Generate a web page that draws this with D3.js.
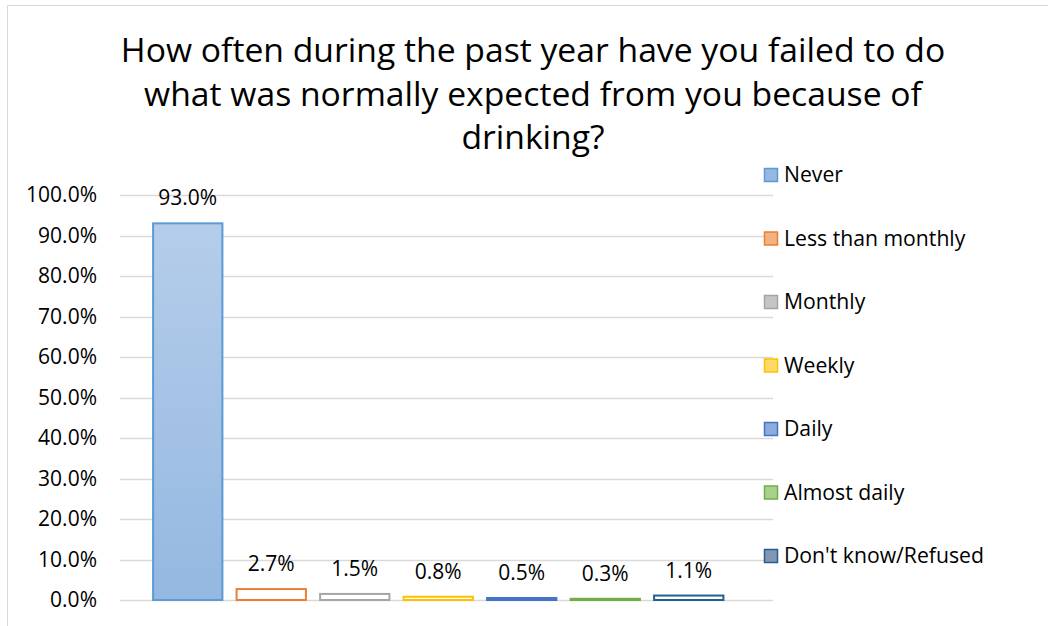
<!DOCTYPE html>
<html>
<head>
<meta charset="utf-8">
<script src="https://cdn.jsdelivr.net/npm/d3@7"></script>
<style>
  html, body { margin: 0; padding: 0; background: #fff; }
  svg { display: block; }
  text { font-family: "Open Sans", "Liberation Sans", sans-serif; fill: #000; }
</style>
</head>
<body>
<script>
const titleLines = ["How often during the past year have you failed to do", "what was normally expected from you because of", "drinking?"];
const categories = ["Never", "Less than monthly", "Monthly", "Weekly", "Daily", "Almost daily", "Don't know/Refused"];
const values = [93.0, 2.7, 1.5, 0.8, 0.5, 0.3, 1.1];
const yTicks = [0, 10, 20, 30, 40, 50, 60, 70, 80, 90, 100];
const strokeColors = ["#5b9bd5", "#ed7d31", "#a5a5a5", "#ffc000", "#4472c4", "#70ad47", "#255e91"];
const fillTop = ["#b5cdea", "#fbe0d0", "#e3e3e3", "#fff0c0", "#bfcdea", "#cfe4c1", "#b7c3d6"];
const fillBottom = ["#94b8e1", "#f4b183", "#c5c5c5", "#ffd966", "#8faadc", "#a9d18e", "#8497b0"];

const W = 1048, H = 626;
const svg = d3.select("body").append("svg").attr("width", W).attr("height", H);

// frame
svg.append("line").attr("x1", 7.5).attr("x2", 7.5).attr("y1", 5.5).attr("y2", H).attr("stroke", "#d9d9d9");
svg.append("line").attr("x1", 7.5).attr("x2", W).attr("y1", 5.5).attr("y2", 5.5).attr("stroke", "#d9d9d9");

const plotL = 120, plotR = 773;
const y = d3.scaleLinear().domain([0, 100]).range([600, 195]);
const x = d3.scaleBand().domain(categories).range([146, 730.5]).paddingInner(0.17).paddingOuter(0.085);

// gradients
const defs = svg.append("defs");
categories.forEach((c, i) => {
  const g = defs.append("linearGradient").attr("id", "g" + i).attr("x1", 0).attr("x2", 0).attr("y1", 0).attr("y2", 1);
  g.append("stop").attr("offset", "0%").attr("stop-color", fillTop[i]);
  g.append("stop").attr("offset", "100%").attr("stop-color", fillBottom[i]);
});

// gridlines
svg.append("g").selectAll("line").data(yTicks).join("line")
  .attr("x1", plotL).attr("x2", plotR)
  .attr("y1", d => Math.round(y(d)) + 0.5).attr("y2", d => Math.round(y(d)) + 0.5)
  .attr("stroke", "#d9d9d9").attr("stroke-width", 1.3);

// y tick labels
svg.append("g").selectAll("text").data(yTicks).join("text")
  .attr("x", 97).attr("y", d => y(d)).attr("dy", "0.35em")
  .attr("text-anchor", "end").attr("font-size", 21)
  .text(d => d3.format(".1f")(d) + "%");

// bars
svg.append("g").selectAll("rect").data(values).join("rect")
  .attr("x", (d, i) => x(categories[i]))
  .attr("width", x.bandwidth())
  .attr("y", d => y(d))
  .attr("height", d => Math.max(0.1, y(0) - y(d)))
  .attr("fill", (d, i) => d >= 10 ? `url(#g${i})` : "#ffffff")
  .attr("stroke", (d, i) => strokeColors[i]).attr("stroke-width", 2);

// data labels
svg.append("g").selectAll("text").data(values).join("text")
  .attr("x", (d, i) => x(categories[i]) + x.bandwidth() / 2)
  .attr("y", d => y(d) - 18)
  .attr("text-anchor", "middle").attr("font-size", 21)
  .text(d => d3.format(".1f")(d) + "%");

// title
svg.append("g").selectAll("text").data(titleLines).join("text")
  .attr("x", 533).attr("y", (d, i) => 62 + i * 43.5)
  .attr("text-anchor", "middle").attr("font-size", 33.7)
  .text(d => d);

// legend
const leg = svg.append("g").selectAll("g").data(categories).join("g")
  .attr("transform", (d, i) => `translate(764, ${175 + i * 63.5})`);
leg.append("rect").attr("x", 0.5).attr("y", -6.5).attr("width", 13).attr("height", 13)
  .attr("fill", (d, i) => fillBottom[i]).attr("stroke", (d, i) => strokeColors[i]).attr("stroke-width", 1.5);
leg.append("text").attr("x", 20).attr("y", 0).attr("dy", "0.35em").attr("font-size", 21.2).text(d => d);
</script>
</body>
</html>
